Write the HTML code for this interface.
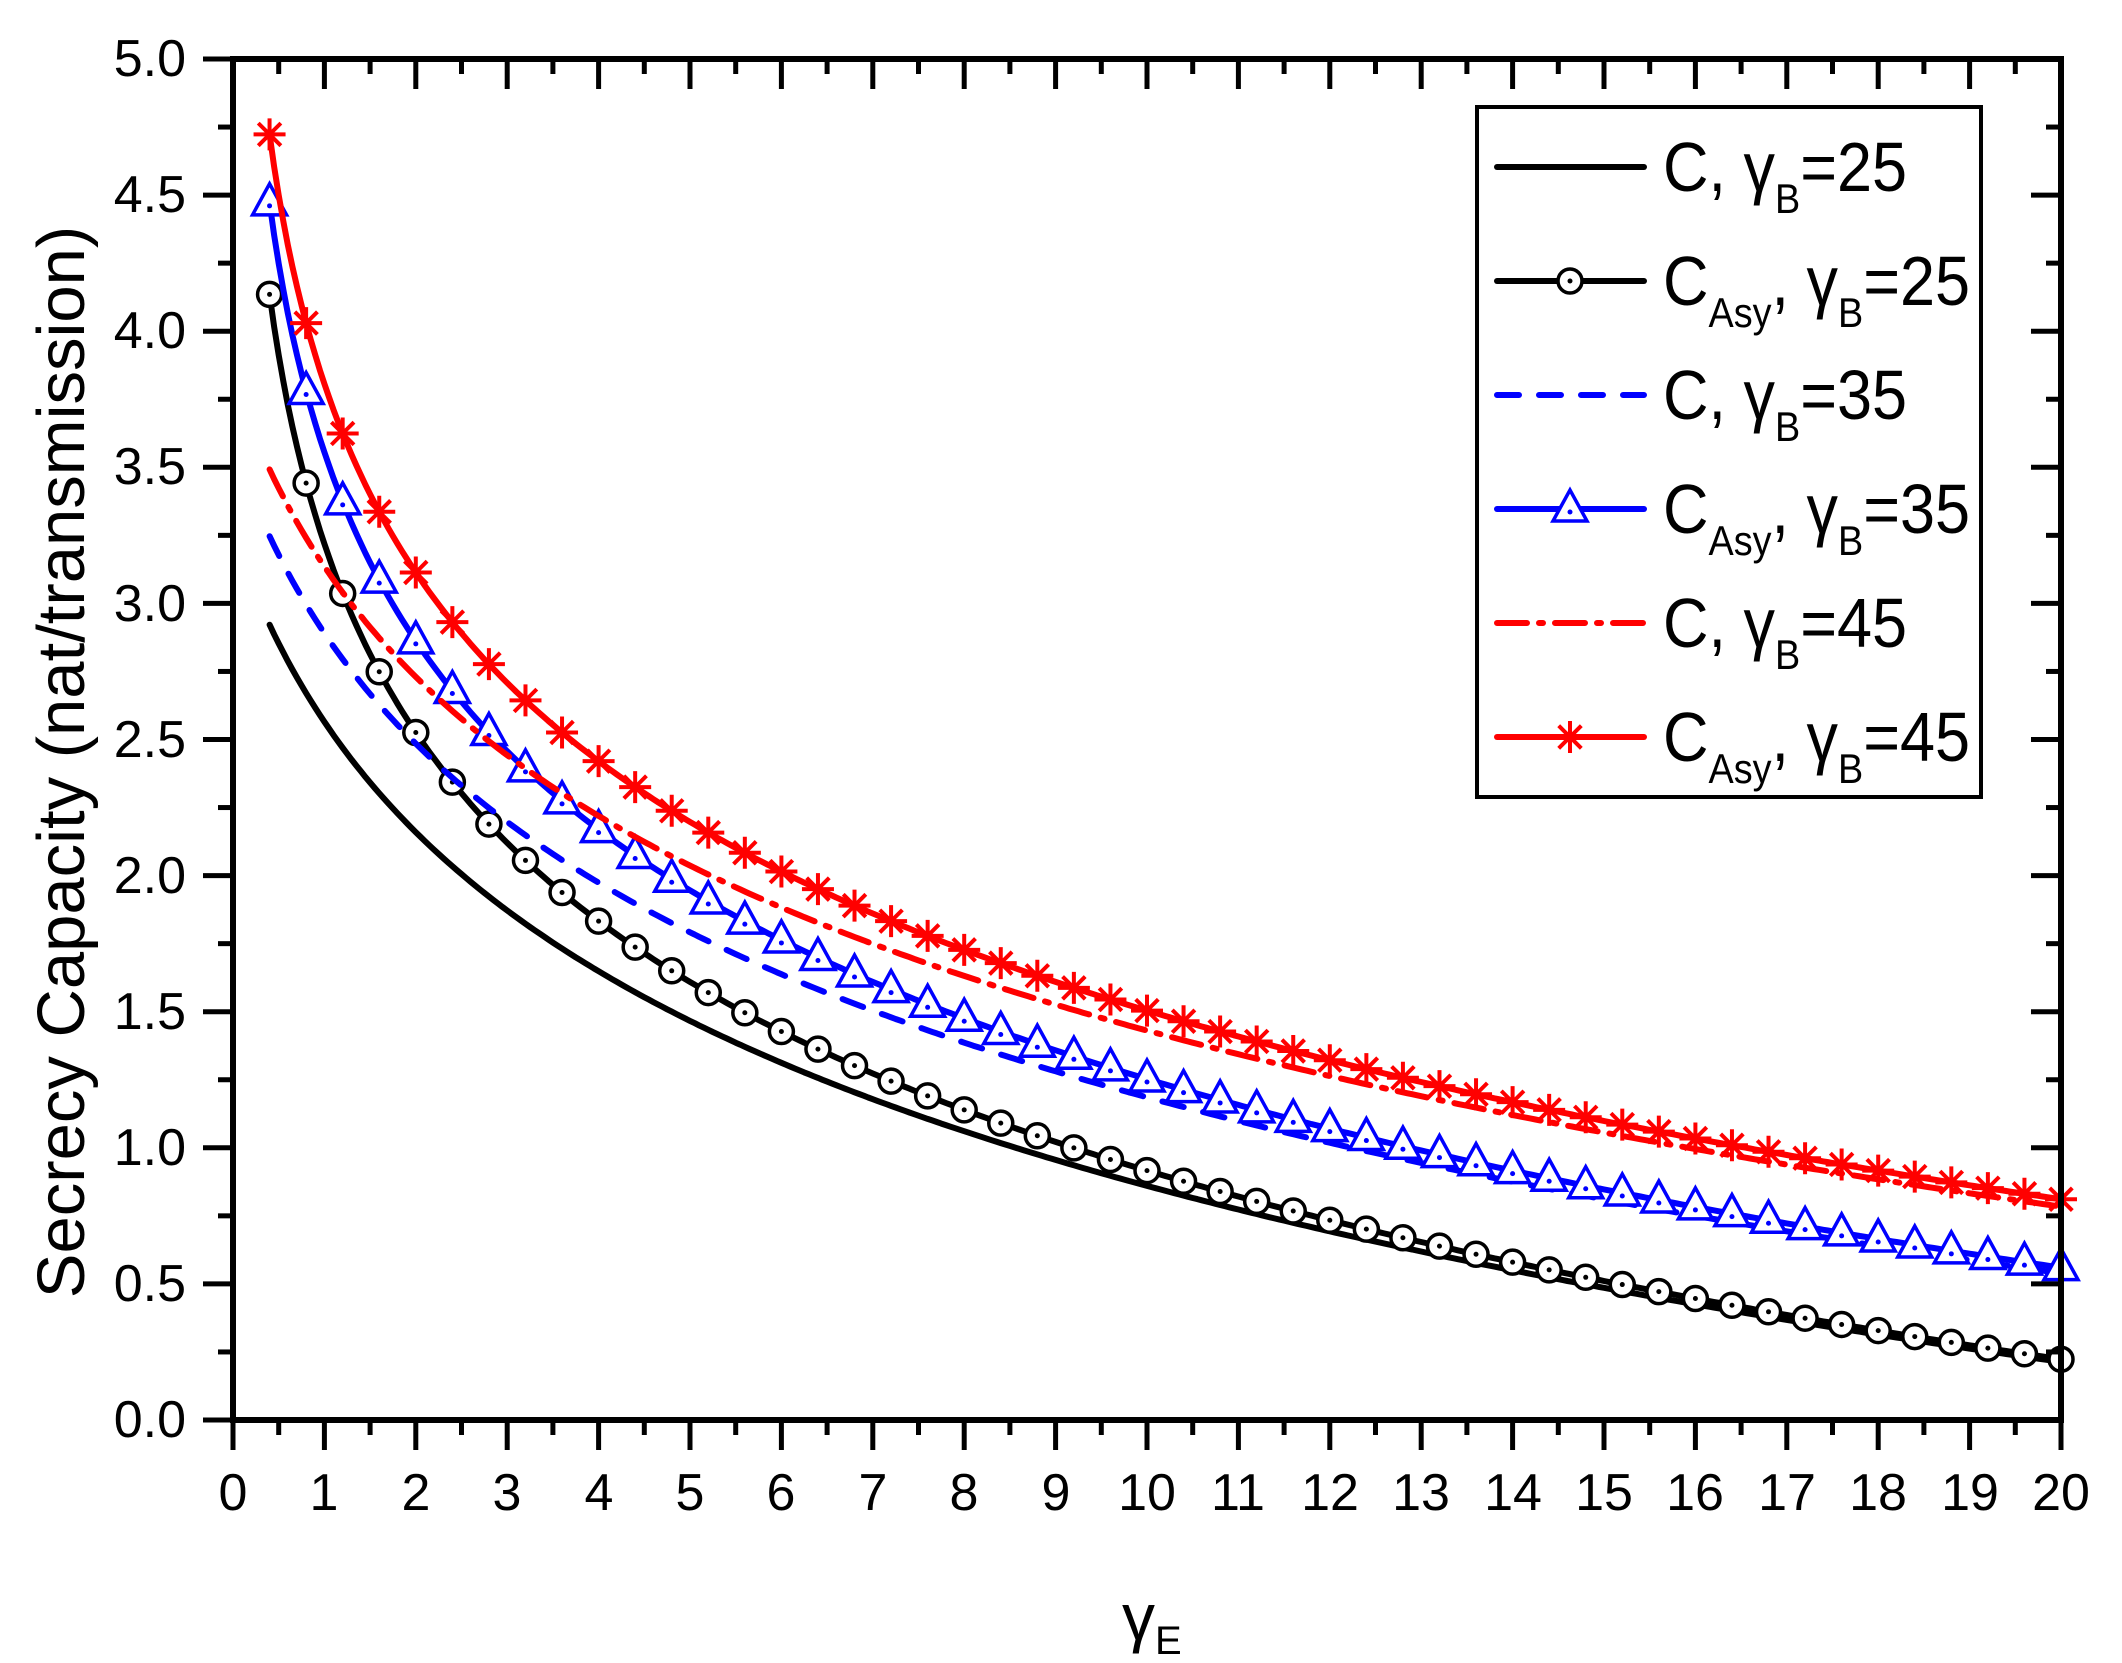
<!DOCTYPE html>
<html><head><meta charset="utf-8"><style>
html,body{margin:0;padding:0;background:#fff;}
svg{display:block;}
text{font-family:"Liberation Sans",sans-serif;}
</style></head><body>
<svg id="s" width="2122" height="1663" viewBox="0 0 2122 1663" xmlns="http://www.w3.org/2000/svg">
<rect width="2122" height="1663" fill="#fff"/>
<g id="curves"></g>
<g id="ticks" stroke="#000" stroke-width="5"></g>
<rect x="233" y="59" width="1828" height="1361" fill="none" stroke="#000" stroke-width="6"/>
<g font-size="52" text-anchor="end" fill="#000">
<text x="186" y="1437">0.0</text>
<text x="186" y="1301">0.5</text>
<text x="186" y="1165">1.0</text>
<text x="186" y="1029">1.5</text>
<text x="186" y="893">2.0</text>
<text x="186" y="757">2.5</text>
<text x="186" y="621">3.0</text>
<text x="186" y="484">3.5</text>
<text x="186" y="348">4.0</text>
<text x="186" y="212">4.5</text>
<text x="186" y="76">5.0</text>
</g>
<g font-size="52" text-anchor="middle" fill="#000">
<text x="233" y="1510">0</text><text x="324" y="1510">1</text><text x="416" y="1510">2</text><text x="507" y="1510">3</text><text x="599" y="1510">4</text><text x="690" y="1510">5</text><text x="781" y="1510">6</text><text x="873" y="1510">7</text><text x="964" y="1510">8</text><text x="1056" y="1510">9</text><text x="1147" y="1510">10</text><text x="1238" y="1510">11</text><text x="1330" y="1510">12</text><text x="1421" y="1510">13</text><text x="1513" y="1510">14</text><text x="1604" y="1510">15</text><text x="1695" y="1510">16</text><text x="1787" y="1510">17</text><text x="1878" y="1510">18</text><text x="1970" y="1510">19</text><text x="2061" y="1510">20</text>
</g>
<text transform="translate(84,762) rotate(-90)" font-size="67" text-anchor="middle">Secrecy Capacity (nat/transmission)</text>
<text x="1122" y="1640" font-family="Liberation Serif,serif" font-size="66">γ<tspan font-size="40" dy="14">E</tspan></text>
<rect x="1477" y="107" width="504" height="690" fill="#fff" stroke="#000" stroke-width="4"/>
<g id="leg"></g>
<g font-size="70" fill="#000" transform="translate(1663,0) scale(0.9,1) translate(-1663,0)">
<text x="1663" y="191">C, γ<tspan font-size="42" dy="22">B</tspan><tspan dy="-22">=25</tspan></text>
<text x="1663" y="305">C<tspan font-size="42" dy="22">Asy</tspan><tspan dy="-22">, γ</tspan><tspan font-size="42" dy="22">B</tspan><tspan dy="-22">=25</tspan></text>
<text x="1663" y="419">C, γ<tspan font-size="42" dy="22">B</tspan><tspan dy="-22">=35</tspan></text>
<text x="1663" y="533">C<tspan font-size="42" dy="22">Asy</tspan><tspan dy="-22">, γ</tspan><tspan font-size="42" dy="22">B</tspan><tspan dy="-22">=35</tspan></text>
<text x="1663" y="647">C, γ<tspan font-size="42" dy="22">B</tspan><tspan dy="-22">=45</tspan></text>
<text x="1663" y="761">C<tspan font-size="42" dy="22">Asy</tspan><tspan dy="-22">, γ</tspan><tspan font-size="42" dy="22">B</tspan><tspan dy="-22">=45</tspan></text>
</g>
</svg>
<script>
var NS="http://www.w3.org/2000/svg";
function X(v){return 233+v*91.4;}
function Y(v){return 59+(5-v)*272.2;}
function el(p,t,a){var e=document.createElementNS(NS,t);for(var k in a)e.setAttribute(k,a[k]);p.appendChild(e);return e;}
var tk=document.getElementById('ticks');
for(var i=0;i<=40;i++){var v=i*0.5,x=X(v),L=(i%2==0)?30:15;
 el(tk,'line',{x1:x,y1:1420,x2:x,y2:1420+L});el(tk,'line',{x1:x,y1:59,x2:x,y2:59+L});}
for(var i=0;i<=20;i++){var v=i*0.25,y=Y(v),L=(i%2==0)?30:15;
 el(tk,'line',{x1:233,y1:y,x2:233-L,y2:y});el(tk,'line',{x1:2061,y1:y,x2:2061-L,y2:y});}
var cg=document.getElementById('curves');
function marker(g,type,x,y,col){
 if(type=='o'){el(g,'circle',{cx:x,cy:y,r:12,fill:'#fff',stroke:col,'stroke-width':3.5});el(g,'circle',{cx:x,cy:y,r:2.5,fill:col});}
 else if(type=='t'){el(g,'polygon',{points:(x-17)+','+(y+12)+' '+(x+17)+','+(y+12)+' '+x+','+(y-19),fill:'#fff',stroke:col,'stroke-width':3.5});el(g,'circle',{cx:x,cy:y+3,r:2.5,fill:col});}
 else if(type=='s'){var r=16,d=11.3;el(g,'path',{d:'M'+(x-r)+' '+y+'H'+(x+r)+'M'+x+' '+(y-r)+'V'+(y+r)+'M'+(x-d)+' '+(y-d)+'L'+(x+d)+' '+(y+d)+'M'+(x-d)+' '+(y+d)+'L'+(x+d)+' '+(y-d),stroke:col,'stroke-width':4,fill:'none'});}
}
var series=[
 {gb:25,asy:false,col:'#000',dash:null},
 {gb:25,asy:true,col:'#000',dash:null,m:'o'},
 {gb:35,asy:false,col:'#0000ff',dash:'22 20'},
 {gb:35,asy:true,col:'#0000ff',dash:null,m:'t'},
 {gb:45,asy:false,col:'#ff0000',dash:'30 12 4 12'},
 {gb:45,asy:true,col:'#ff0000',dash:null,m:'s'}];
var lg=document.getElementById('leg');
series.forEach(function(s,idx){
 var f=function(g){return s.asy?Math.log(s.gb/g):Math.log((1+s.gb)/(1+g));};
 var d='';for(var g=0.4;g<=20.0001;g+=0.05){d+=(d?'L':'M')+X(g).toFixed(1)+' '+Y(f(g)).toFixed(1);}
 var a={d:d,fill:'none',stroke:s.col,'stroke-width':6,'stroke-linejoin':'round','stroke-linecap':'round'};
 if(s.dash)a['stroke-dasharray']=s.dash;
 el(cg,'path',a);
 if(s.m){for(var k=1;k<=50;k++){var g=0.4*k;marker(cg,s.m,X(g),Y(f(g)),s.col);}}
 var ly=167+114*idx;
 var la={d:'M1497 '+ly+'H1644',fill:'none',stroke:s.col,'stroke-width':6,'stroke-linecap':'round'};
 if(s.dash)la['stroke-dasharray']=s.dash;
 el(lg,'path',la);
 if(s.m)marker(lg,s.m,1570,ly,s.col);
});
</script>
</body></html>
